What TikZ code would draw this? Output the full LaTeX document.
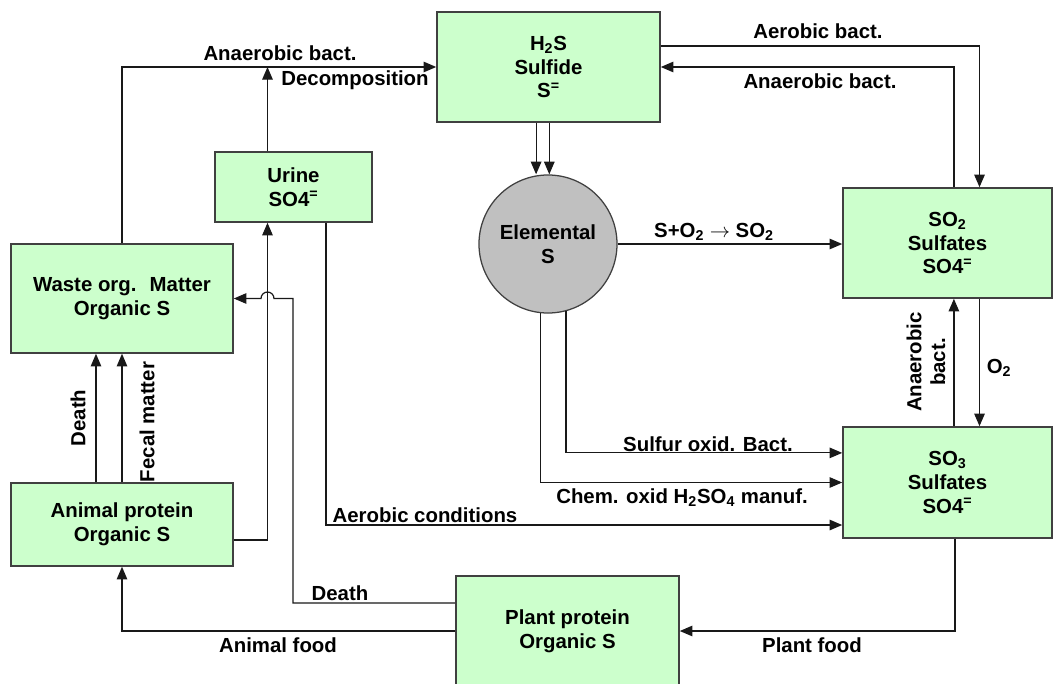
\documentclass[tikz,border=0pt]{standalone}
\usepackage{fontspec}
\setmainfont{Liberation Sans}
\usetikzlibrary{arrows.meta}
\definecolor{poolgreen}{HTML}{CCFFCC}
\definecolor{poolgrey}{HTML}{C0C0C0}
\tikzset{
  pool/.style={rectangle, fill=poolgreen, draw=black!75, line width=1.1pt, align=center,
    font=\fontsize{14.5}{16.8}\selectfont\bfseries, inner sep=2pt},
  elemental/.style={circle, fill=poolgrey, draw=black!75, line width=0.9pt, align=center,
    font=\fontsize{14.5}{16.8}\selectfont\bfseries, minimum size=3.45cm, inner sep=0pt},
  flow/.style={line width=0.85pt, draw=black!90, -{Triangle[length=9pt,width=7.5pt]}},
  flowlabel/.style={font=\fontsize{14.5}{16.8}\selectfont\bfseries, inner sep=0pt, align=center},
}

\begin{document}
\begin{tikzpicture}[x=0.025cm, y=-0.025cm]
\clip (0,0) rectangle (1054,684);
% pools
\node[pool, minimum width=5.575cm, minimum height=2.75cm] (h2s) at (548.5,67) {H\textsubscript{2}S\\Sulfide\\S\textsuperscript{=}};
\node[pool, minimum width=3.925cm, minimum height=1.75cm] (urine) at (293.5,187) {Urine\\SO4\textsuperscript{=}};
\node[pool, minimum width=5.55cm, minimum height=2.725cm] (waste) at (122,298.5) {Waste org.~ Matter\\Organic S};
\node[pool, minimum width=5.55cm, minimum height=2.075cm] (animal) at (122,524.5) {Animal protein\\Organic S};
\node[pool, minimum width=5.575cm, minimum height=2.75cm] (plant) at (567.5,631) {Plant protein\\Organic S};
\node[pool, minimum width=5.225cm, minimum height=2.75cm] (so2) at (947.5,243) {SO\textsubscript{2}\\Sulfates\\SO4\textsuperscript{=}};
\node[pool, minimum width=5.225cm, minimum height=2.775cm] (so3) at (947.5,482.5) {SO\textsubscript{3}\\Sulfates\\SO4\textsuperscript{=}};
\node[elemental] (elem) at (548,244) {Elemental\\S};

% flows
\draw[flow] (waste.north) |- (h2s.west);
\draw[flow] ([xshift=-0.65cm]urine.north) -- ([xshift=-0.65cm]urine.north |- h2s.west);
\draw[flow] ([xshift=-0.31cm]h2s.south) -- ([xshift=-0.31cm]h2s.south |- elem.north);
\draw[flow] ([xshift=0.02cm]h2s.south) -- ([xshift=0.02cm]h2s.south |- elem.north);
\draw[flow] ([yshift=0.525cm]h2s.east) -| ([xshift=0.8cm]so2.north);
\draw[flow] ([xshift=0.16cm]so2.north) |- (h2s.east);
\draw[flow] (elem.east) -- (elem.east -| so2.west);
\draw[flow] ([xshift=0.8cm]so2.south) -- ([xshift=0.8cm]so3.north);
\draw[flow] ([xshift=0.16cm]so3.north) -- ([xshift=0.16cm]so2.south);
\draw[flow] (elem.-75) |- ([yshift=0.74cm]so3.west);
\draw[flow] (elem.-96) |- (so3.west);
\draw[flow] ([xshift=0.8125cm]urine.south) |- ([yshift=-1.0625cm]so3.west);
\draw[flow] ([yshift=-0.3875cm]animal.east) -| ([xshift=-0.65cm]urine.south);
\draw[flow] ([xshift=-0.65cm]animal.north) -- ([xshift=-0.65cm]waste.south);
\draw[flow] (animal.north) -- (waste.south);
\draw[flow] ([yshift=0.7cm]plant.west) -- (293,603) -- (293,298.5) -- (274,298.5)
  arc[start angle=0, end angle=180, radius=0.1625cm] -- (waste.east);
\draw[flow] (plant.west) -| (animal.south);
\draw[flow] ([xshift=0.1875cm]so3.south) |- (plant.east);

% labels
\node[flowlabel] (lbanaer) at (280,53) {Anaerobic bact.};
\node[flowlabel] (lbdecomp) at (355,80) {Decomposition};
\node[flowlabel] (lbaerob) at (818,31) {Aerobic bact.};
\node[flowlabel] (lbanaerret) at (820,81) {Anaerobic bact.};
\node[flowlabel] (lboxid) at (714,232) {S+O\textsubscript{2} $\rightarrow$ SO\textsubscript{2}};
\node[flowlabel] (lbotwo) at (999,368) {O\textsubscript{2}};
\node[flowlabel, rotate=90] (lbanaerup) at (926,362) {Anaerobic\\bact.};
\node[flowlabel] (lbsulfur) at (708,444) {Sulfur oxid. Bact.};
\node[flowlabel] (lbchem) at (682,498) {Chem. oxid H\textsubscript{2}SO\textsubscript{4} manuf.};
\node[flowlabel] (lbaercond) at (425,515) {Aerobic conditions};
\node[flowlabel, rotate=90] (lbdeath) at (78,418) {Death};
\node[flowlabel, rotate=90] (lbfecal) at (147,422) {Fecal matter};
\node[flowlabel] (lbdeathplant) at (340,593) {Death};
\node[flowlabel] (lbanimalfood) at (278,645) {Animal food};
\node[flowlabel] (lbplantfood) at (812,645) {Plant food};
\end{tikzpicture}
\end{document}
